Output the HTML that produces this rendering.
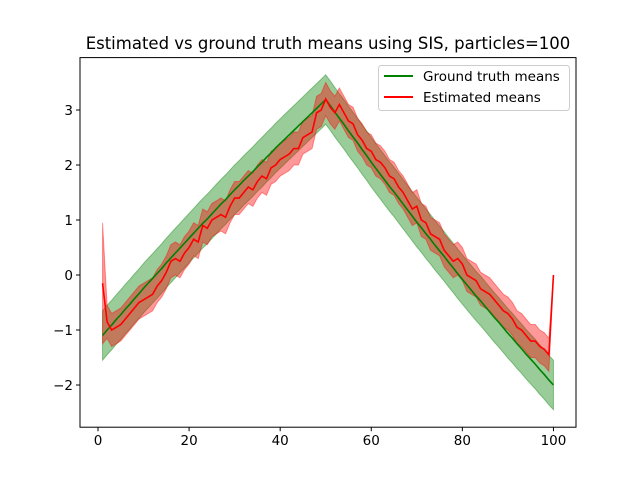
<!DOCTYPE html>
<html><head><meta charset="utf-8"><style>
body{margin:0;background:#fff;}
svg{display:block;font-family:"DejaVu Sans","Liberation Sans",sans-serif;}
</style></head><body>
<svg id="chart" width="640" height="480" viewBox="0 0 640 480">
<text x="328" y="49" font-size="16.5" text-anchor="middle">Estimated vs ground truth means using SIS, particles=100</text>
<g id="plot"></g>
<rect x="80" y="57.6" width="496" height="369.6" fill="none" stroke="#000" stroke-width="1"/>
<g id="axes"></g>
<g>
<rect x="378.5" y="65.5" width="191" height="45" rx="3" fill="#fff" fill-opacity="0.8" stroke="#ccc"/>
<line x1="384" y1="76" x2="413" y2="76" stroke="#008000" stroke-width="2"/>
<text x="423" y="81" font-size="13.5">Ground truth means</text>
<line x1="384" y1="97" x2="413" y2="97" stroke="#ff0000" stroke-width="2"/>
<text x="423" y="102" font-size="13.5">Estimated means</text>
</g>
</svg>
<script>
const groundTruth=[-1.10,-1.00,-0.91,-0.81,-0.72,-0.62,-0.53,-0.43,-0.34,-0.24,-0.15,-0.06,0.03,0.12,0.22,0.31,0.40,0.49,0.58,0.67,0.76,0.85,0.94,1.02,1.11,1.20,1.29,1.37,1.46,1.55,1.63,1.72,1.80,1.88,1.97,2.05,2.14,2.22,2.31,2.39,2.47,2.55,2.63,2.71,2.79,2.87,2.95,3.03,3.11,3.19,3.08,2.96,2.85,2.74,2.62,2.51,2.40,2.28,2.17,2.05,1.94,1.83,1.72,1.61,1.51,1.40,1.29,1.18,1.07,0.96,0.86,0.75,0.65,0.54,0.44,0.34,0.23,0.13,0.02,-0.08,-0.18,-0.28,-0.38,-0.47,-0.57,-0.67,-0.77,-0.86,-0.96,-1.06,-1.15,-1.25,-1.34,-1.44,-1.53,-1.62,-1.72,-1.81,-1.91,-2.00];
const gtStd=0.45;
const estimated=[-0.15,-0.85,-1.0,-0.95,-0.9,-0.8,-0.7,-0.6,-0.5,-0.45,-0.4,-0.35,-0.2,-0.1,0.05,0.25,0.3,0.25,0.4,0.5,0.65,0.6,0.9,0.85,1.0,1.05,1.1,1.05,1.25,1.4,1.4,1.5,1.6,1.55,1.7,1.8,1.75,1.95,2.0,2.1,2.15,2.2,2.3,2.3,2.5,2.55,2.6,2.95,3.0,3.2,3.05,2.95,3.1,2.95,2.8,2.75,2.55,2.45,2.3,2.25,2.1,2.05,1.95,1.8,1.75,1.6,1.5,1.35,1.2,1.25,1.0,0.95,0.75,0.7,0.65,0.45,0.35,0.25,0.3,0.2,0.0,-0.05,-0.1,-0.25,-0.3,-0.35,-0.45,-0.55,-0.65,-0.7,-0.8,-0.95,-1.0,-1.1,-1.2,-1.2,-1.3,-1.35,-1.45,0.0];
const estStd=[1.1].concat(Array(98).fill(0.3)).concat([0]);
const xTicks=[0,20,40,60,80,100];
const yTicks=[-2,-1,0,1,2,3];

const L=80,R=576,T=57.6,B=427.2;
const xmin=-3.95,xmax=104.95,ymin=-2.767,ymax=3.953;
const X=v=>L+(v-xmin)/(xmax-xmin)*(R-L);
const Y=v=>B-(v-ymin)/(ymax-ymin)*(B-T);
const NS="http://www.w3.org/2000/svg";
const plot=document.getElementById('plot'),axes=document.getElementById('axes');
function mk(tag,attrs,parent){const e=document.createElementNS(NS,tag);for(const k in attrs)e.setAttribute(k,attrs[k]);parent.appendChild(e);return e;}
function band(m,s,color,name){
  let up=m.map((v,i)=>X(i+1)+','+Y(v+(Array.isArray(s)?s[i]:s)));
  let lo=m.map((v,i)=>X(i+1)+','+Y(v-(Array.isArray(s)?s[i]:s))).reverse();
  const p=mk('polygon',{points:up.concat(lo).join(' '),fill:color,'fill-opacity':0.4,stroke:color,'stroke-opacity':0.4,'stroke-width':1},plot);
  
  
}
function line(m,color,name){
  const p=mk('polyline',{points:m.map((v,i)=>X(i+1)+','+Y(v)).join(' '),fill:'none',stroke:color,'stroke-width':1.6},plot);
  
  
}
band(groundTruth,gtStd,'#008000','ground-truth-band');
band(estimated,estStd,'#ff0000','estimated-band');
line(groundTruth,'#008000','ground-truth-line');
line(estimated,'#ff0000','estimated-line');
xTicks.forEach(t=>{
  const l=mk('line',{x1:X(t),x2:X(t),y1:B,y2:B+4,stroke:'#000'},axes);
  
  
  const s=mk('text',{x:X(t),y:B+18,'font-size':13.5,'text-anchor':'middle'},axes);s.textContent=t;
  
  
});
yTicks.forEach(t=>{
  const l=mk('line',{x1:L-4,x2:L,y1:Y(t),y2:Y(t),stroke:'#000'},axes);
  
  
  const s=mk('text',{x:L-7,y:Y(t)+5,'font-size':13.5,'text-anchor':'end'},axes);s.textContent=t<0?'\u2212'+(-t):t;
  
  
});
</script>
</body></html>
